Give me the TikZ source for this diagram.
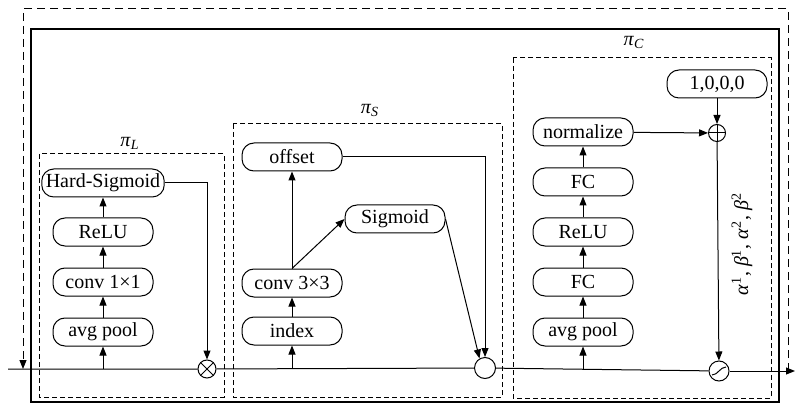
\documentclass[tikz,border=0pt]{standalone}
\usepackage{fontspec}
\setmainfont{Liberation Serif}
\usepackage{tikz}
\usetikzlibrary{arrows.meta}
\tikzstyle{block} = [draw,rounded corners=6pt,minimum width=50pt,minimum height=14pt,inner sep=2pt,line width=0.5pt]
\tikzstyle{op} = [draw,circle,inner sep=0pt,line width=0.5pt,fill=white]
\tikzstyle{group} = [draw,dash pattern=on 2.5pt off 1.5pt,line width=0.5pt]
\tikzstyle{loop} = [dash pattern=on 4pt off 2.5pt,line width=0.5pt]

\begin{document}
\begin{tikzpicture}[x=0.5pt,y=-0.5pt,post/.style={->,>={Triangle[length=4.5pt,width=3.5pt]},line width=0.5pt}]
    \useasboundingbox (0,0) rectangle (795,405);

    \draw[line width=0.7pt] (31,29) rectangle (779,402);
    \draw[group] (39,154) rectangle (224,397);
    \draw[group] (233,124) rectangle (502,397);
    \draw[group] (513,58) rectangle (771,398);

    \node[inner sep=1] (piL) at (130,143) {\textit{π}\textsubscript{\textit{L}}};
    \node[inner sep=1] (piS) at (370,110) {\textit{π}\textsubscript{\textit{S}}};
    \node[inner sep=1] (piC) at (634,42) {\textit{π}\textsubscript{\textit{C}}};

    \coordinate (in) at (8,369);
    \coordinate (out) at (795,371);
    \coordinate (fb) at (788,371);
    \coordinate (fbL) at (23,9);

    \node[block] (hsig) at (103,183) {Hard-Sigmoid};
    \node[block] (reluL) at (103,232) {ReLU};
    \node[block] (conv1) at (103,282) {conv 1×1};
    \node[block] (avgL) at (103,332) {avg pool};
    \node[op,minimum size=9pt] (mulL) at (207,369) {};

    \node[block] (offs) at (292,157) {offset};
    \node[block] (sig) at (395,219) {Sigmoid};
    \node[block] (conv3) at (292,283) {conv 3×3};
    \node[block] (idx) at (292,331) {index};
    \node[op,minimum size=10.5pt] (mulS) at (485,368) {};

    \node[block] (one) at (717,84) {1,0,0,0};
    \node[block] (norm) at (583,132) {normalize};
    \node[block] (fcB) at (583,182) {FC};
    \node[block] (reluC) at (583,232) {ReLU};
    \node[block] (fcA) at (583,282) {FC};
    \node[block] (avgC) at (583,332) {avg pool};
    \node[op,minimum size=8.5pt] (addC) at (717,133) {};
    \node[op,minimum size=10pt] (mulC) at (719,371) {};
    \node[rotate=90,inner sep=1] (coef) at (742,244) {\textit{α}\textsuperscript{1}, \textit{β}\textsuperscript{1}, \textit{α}\textsuperscript{2}, \textit{β}\textsuperscript{2}};

    \draw[line width=0.5pt] (mulL.north west) -- (mulL.south east) (mulL.north east) -- (mulL.south west);
    \draw[line width=0.5pt] (addC.north) -- (addC.south) (addC.west) -- (addC.east);
    \draw[line width=0.5pt] ([shift={(-7,4)}]mulC.center) .. controls ([shift={(-1,4)}]mulC.center) and ([shift={(1,-4)}]mulC.center) .. ([shift={(7,-4)}]mulC.center);

    \draw[line width=0.5pt] (in) -- (mulL) -- (mulS) -- (mulC);
    \draw[post] (mulC) -- (out);
    \draw[post,loop] (fb) |- (fbL) -- (fbL |- in);

    \draw[post] (avgL |- in) -- (avgL);
    \draw[post] (avgL) -- (conv1);
    \draw[post] (conv1) -- (reluL);
    \draw[post] (reluL) -- (hsig);
    \draw[post] (hsig.east) -| (mulL.north);

    \draw[post] (idx |- in) -- (idx);
    \draw[post] (idx) -- (conv3);
    \draw[post] (conv3.north) -- (offs.south);
    \draw[post] (conv3.north) -- (sig.west);
    \draw[post] (offs.east) -| (mulS.north);
    \draw[post] (sig.east) -- (mulS.120);

    \draw[post] (avgC |- in) -- (avgC);
    \draw[post] (avgC) -- (fcA);
    \draw[post] (fcA) -- (reluC);
    \draw[post] (reluC) -- (fcB);
    \draw[post] (fcB) -- (norm);
    \draw[post] (norm) -- (addC);
    \draw[post] (one) -- (addC);
    \draw[post] (addC) -- (mulC);

\end{tikzpicture}
\end{document}
